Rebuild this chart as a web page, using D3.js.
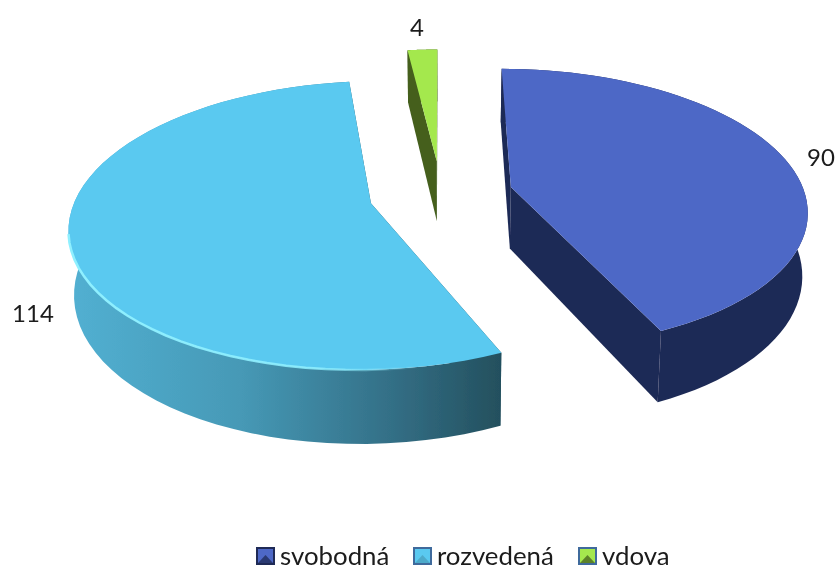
<!DOCTYPE html>
<html>
<head>
<meta charset="utf-8">
<script src="https://cdn.jsdelivr.net/npm/d3@7/dist/d3.min.js"></script>
<style>
  html, body { margin: 0; padding: 0; background: #fff; overflow: hidden; }
  svg { display: block; }
  text { font-family: Lato, "Open Sans", sans-serif; fill: #1a1a1a; }
</style>
</head>
<body>
<div id="chart"></div>
<script>
// marital status counts
const categories = ["svobodná", "rozvedená", "vdova"];
const values = [90, 114, 4];
const topColors = ["#4e68c6", "#5ac9f0", "#a4e84e"];
const sideColors = ["#1f2a56", "#4a9fbd", "#445f1e"];

const w = 838, h = 565;
const vx = 441, vy = 194;       // world centre / vanishing column
const R = 294, explode = 72, tilt = 0.47, persp = 0.00052;
const depth = 62;

const svg = d3.select("#chart").append("svg").attr("width", w).attr("height", h);
const defs = svg.append("defs");

defs.append("filter").attr("id", "soft").append("feGaussianBlur").attr("stdDeviation", 0.55);
defs.append("filter").attr("id", "soft-text").append("feGaussianBlur").attr("stdDeviation", 0.35);

// outer wall of the big slice fades toward its cut edge
const wallGrad = defs.append("linearGradient").attr("id", "wall-cyan")
  .attr("gradientUnits", "userSpaceOnUse")
  .attr("x1", 68).attr("x2", 500).attr("y1", 0).attr("y2", 0);
[[0, "#52b0d2"], [0.4, "#4699b6"], [0.75, "#336f86"], [1, "#24505e"]].forEach(s =>
  wallGrad.append("stop").attr("offset", s[0]).attr("stop-color", s[1]));

const rimGrad = defs.append("linearGradient").attr("id", "rim-cyan")
  .attr("gradientUnits", "userSpaceOnUse")
  .attr("x1", 68).attr("x2", 420).attr("y1", 0).attr("y2", 0);
[[0, "#8ff0ff", 1], [0.7, "#8ff0ff", 0.85], [1, "#8ff0ff", 0]].forEach(s =>
  rimGrad.append("stop").attr("offset", s[0]).attr("stop-color", s[1]).attr("stop-opacity", s[2]));

const pie = d3.pie().sort(null)(values);

// plane point -> screen, level 0 is the top face and 1 the bottom face
function project(X, Y, level) {
  const s = 1 / (1 - persp * Y);
  const k = level ? 0.985 : 1;
  return [vx + X * s * k, vy + Y * tilt * s + level * depth * s];
}

const line = d3.line();

const slices = pie.map((d, i) => {
  const mid = (d.startAngle + d.endAngle) / 2;
  const cx = Math.sin(mid) * explode, cy = -Math.cos(mid) * explode;
  const angles = d3.range(0, 61).map(t => d.startAngle + (d.endAngle - d.startAngle) * t / 60);
  const rim = angles.map(a => [cx + R * Math.sin(a), cy - R * Math.cos(a)]);
  return { i, cx, cy, rim };
});

const art = svg.append("g").attr("filter", "url(#soft)");
const walls = art.append("g"), tops = art.append("g");

slices.forEach(sl => {
  const col = sideColors[sl.i];
  const outerTop = sl.rim.map(p => project(p[0], p[1], 0));
  const outerBot = sl.rim.map(p => project(p[0], p[1], 1));
  const a0 = project(sl.cx, sl.cy, 0), a1 = project(sl.cx, sl.cy, 1);
  const dark = sl.i === 1 ? "#24505e" : col;
  // two cut walls
  [sl.rim[0], sl.rim[60]].forEach(e => {
    const t = project(e[0], e[1], 0), b = project(e[0], e[1], 1);
    walls.append("path").attr("d", line([a0, t, b, a1]) + "Z").attr("fill", dark);
  });
  // outer wall
  walls.append("path")
    .attr("d", line(outerTop.concat(outerBot.slice().reverse())) + "Z")
    .attr("fill", sl.i === 1 ? "url(#wall-cyan)" : col);
  // top face
  tops.append("path")
    .attr("d", line([a0].concat(outerTop)) + "Z")
    .attr("fill", topColors[sl.i]);
  if (sl.i === 1) {
    const front = outerTop.filter(p => p[1] > 232);
    tops.append("path").attr("d", line(front)).attr("fill", "none")
      .attr("stroke", "url(#rim-cyan)").attr("stroke-width", 2.5);
  }
});

const texts = svg.append("g").attr("filter", "url(#soft-text)");

// value labels
const labelPos = [[821, 166], [33, 322], [417, 36]];
values.forEach((v, i) => {
  texts.append("text").attr("x", labelPos[i][0]).attr("y", labelPos[i][1])
    .attr("text-anchor", "middle").attr("font-size", 24).text(v);
});

// legend, the keys are small bevelled squares
const legendX = [256, 413, 578];
const legendTextX = [280, 437, 602];
categories.forEach((c, i) => {
  const g = svg.append("g").attr("transform", `translate(${legendX[i]},547)`);
  g.append("rect").attr("width", 19).attr("height", 18).attr("fill", i === 0 ? sideColors[0] : "#3f6a9c");
  g.append("rect").attr("x", 2).attr("y", 2).attr("width", 15).attr("height", 14).attr("fill", topColors[i]);
  g.append("path").attr("d", line([[2, 16], [9.5, 8], [17, 16]]) + "Z").attr("fill", sideColors[i]).attr("opacity", 0.75);
  texts.append("text").attr("x", legendTextX[i]).attr("y", 565).attr("font-size", 25.8).text(c);
});
</script>
</body>
</html>
